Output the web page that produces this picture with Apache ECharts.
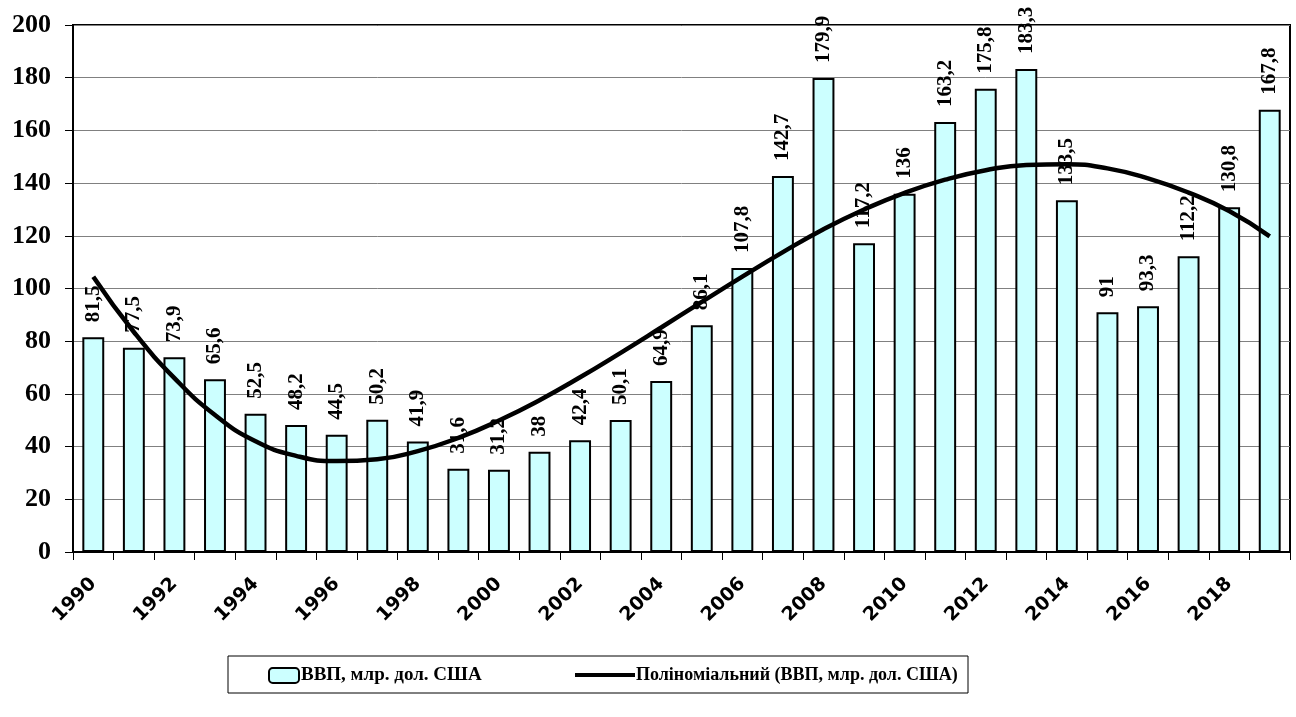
<!DOCTYPE html>
<html>
<head>
<meta charset="utf-8">
<script src="https://cdn.jsdelivr.net/npm/echarts@6/dist/echarts.min.js"></script>
<style>
html,body{margin:0;padding:0;background:#fff;}
#c{width:1296px;height:717px;}
</style>
</head>
<body>
<div id="c"></div>
<script>
const years = ['1990','1991','1992','1993','1994','1995','1996','1997','1998','1999','2000','2001','2002','2003','2004','2005','2006','2007','2008','2009','2010','2011','2012','2013','2014','2015','2016','2017','2018','2019'];
const gdp = [81.5,77.5,73.9,65.6,52.5,48.2,44.5,50.2,41.9,31.6,31.2,38,42.4,50.1,64.9,86.1,107.8,142.7,179.9,117.2,136,163.2,175.8,183.3,133.5,91,93.3,112.2,130.8,167.8];
const trend = [104.5,83.5,66,52,42,36.5,34.5,35.2,38.3,43.3,49.9,57.6,66.3,75.6,85.2,94.9,104.5,113.8,122.5,130,136.3,141.3,144.9,146.9,147.2,145.6,141.8,136.4,129.4,119.8];
const yTicks = {min:0, max:200, interval:20};
const barName = 'ВВП, млр. дол. США';
const lineName = 'Поліноміальний (ВВП, млр. дол. США)';

const serif = '"Liberation Serif", "Times New Roman", serif';
const chart = echarts.init(document.getElementById('c'));
chart.setOption({
  animation: false,
  backgroundColor: '#fff',
  grid: {left: 73, right: 6, top: 25, bottom: 165, show: true, borderColor: '#000', borderWidth: 2, backgroundColor: 'transparent'},
  graphic: [{type: 'rect', shape: {x: 228, y: 656, width: 740, height: 37}, style: {fill: 'none', stroke: '#000', lineWidth: 1}, z: 1}],
  legend: [
    {data: [barName], left: 263, top: 661, itemWidth: 30, itemHeight: 15, itemGap: 0,
     textStyle: {fontFamily: serif, fontWeight: 'bold', fontSize: 19, color: '#000', padding: [0,0,0,-3]}},
    {data: [{name: lineName, icon: 'rect'}], left: 570, top: 661, itemWidth: 60, itemHeight: 4, itemGap: 0,
     itemStyle: {color: '#000'},
     textStyle: {fontFamily: serif, fontWeight: 'bold', fontSize: 18, color: '#000', padding: [0,0,0,-4]}}
  ],
  xAxis: {
    type: 'category', data: years, boundaryGap: true,
    axisLine: {lineStyle: {color: '#000', width: 2}},
    axisTick: {show: true, interval: 0, length: 8, lineStyle: {color: '#000', width: 1}},
    axisLabel: {interval: 1, rotate: 45, margin: 29, fontFamily: '"DejaVu Sans", Verdana, sans-serif', fontWeight: 'bold', fontSize: 19, color: '#000'},
    splitLine: {show: false}
  },
  yAxis: {
    type: 'value', min: yTicks.min, max: yTicks.max, interval: yTicks.interval,
    axisLine: {show: true, lineStyle: {color: '#000', width: 2}},
    axisTick: {show: true, length: 8, lineStyle: {color: '#000', width: 1}},
    axisLabel: {margin: 22, fontFamily: serif, fontWeight: 'bold', fontSize: 26, color: '#000'},
    splitLine: {show: true, lineStyle: {color: '#808080', width: 1}}
  },
  series: [
    {
      name: barName, type: 'bar', data: gdp, barWidth: '54%', z: 2,
      itemStyle: {color: '#CCFFFF', borderColor: '#000', borderWidth: 2},
      label: {show: true, position: 'top', rotate: 90, align: 'left', verticalAlign: 'middle', distance: 15,
        fontFamily: serif, fontWeight: 'bold', fontSize: 21, color: '#000',
        formatter: p => String(p.value).replace('.', ',')}
    },
    {
      name: lineName, type: 'line', data: trend, smooth: true, symbol: 'none', z: 10,
      lineStyle: {color: '#000', width: 4.5}, itemStyle: {color: '#000'}
    }
  ]
});
</script>
</body>
</html>
